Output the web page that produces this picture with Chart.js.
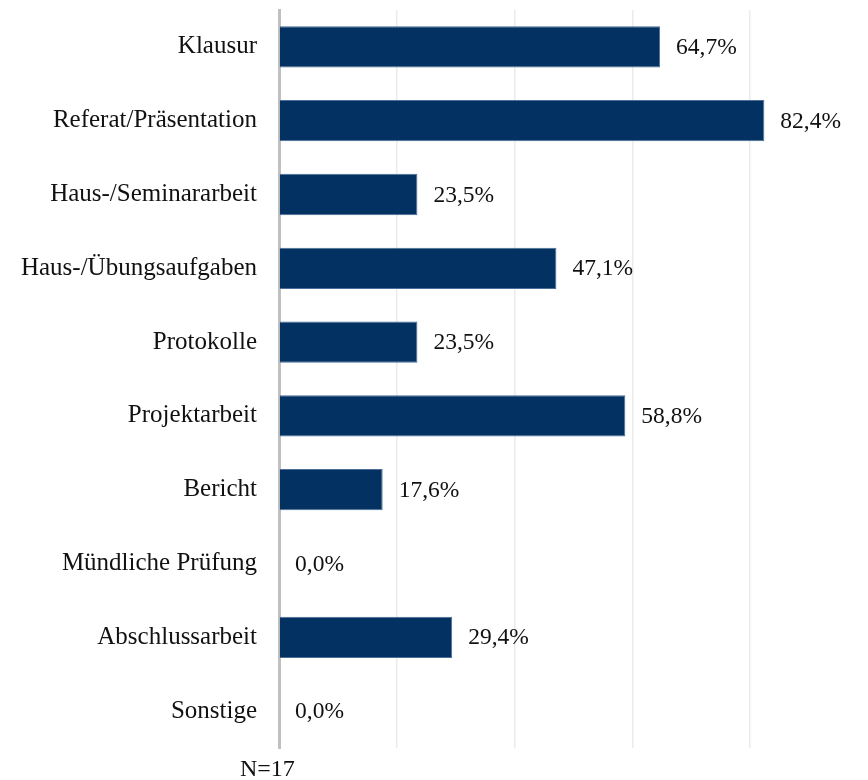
<!DOCTYPE html>
<html lang="de">
  <head>
    <meta charset="UTF-8" />
    <title>Prüfungsformen</title>
    <script src="https://cdn.jsdelivr.net/npm/chart.js"></script>
    <style>
      html, body { margin: 0; padding: 0; background: #fff; overflow: hidden; }
      #wrap { position: relative; width: 868px; height: 780px; }
    </style>
  </head>
  <body>
    <div id="wrap"><canvas id="chart" width="868" height="780"></canvas></div>

    <script>
      // Daten
      const categories = [
        "Klausur",
        "Referat/Präsentation",
        "Haus-/Seminararbeit",
        "Haus-/Übungsaufgaben",
        "Protokolle",
        "Projektarbeit",
        "Bericht",
        "Mündliche Prüfung",
        "Abschlussarbeit",
        "Sonstige",
      ];
      const shares = [64.7, 82.4, 23.5, 47.1, 23.5, 58.8, 17.6, 0.0, 29.4, 0.0];
      const xTicks = [0, 20, 40, 60, 80];
      const note = "N=17";

      const serif = "'Liberation Serif', 'Times New Roman', serif";

      // Werte neben den Balken
      const valueLabels = {
        id: "valueLabels",
        afterDatasetsDraw(chart) {
          const ctx = chart.ctx;
          const meta = chart.getDatasetMeta(0);
          ctx.save();
          ctx.font = "23.5px " + serif;
          ctx.fillStyle = "#111";
          ctx.textBaseline = "middle";
          ctx.textAlign = "left";
          meta.data.forEach((bar, i) => {
            const txt = shares[i].toFixed(1).replace(".", ",") + "%";
            ctx.fillText(txt, bar.x + 16, bar.y + 1);
          });
          // N-Angabe unten
          ctx.font = "24px " + serif;
          ctx.fillText(note, chart.chartArea.left - 39, chart.chartArea.bottom + 22);
          ctx.restore();
        },
      };

      new Chart(document.getElementById("chart"), {
        type: "bar",
        data: {
          labels: categories,
          datasets: [
            {
              data: shares,
              backgroundColor: "#033262",
              borderColor: "#4a6e98",
              borderWidth: 1,
              barPercentage: 0.56,
              categoryPercentage: 1,
            },
          ],
        },
        options: {
          indexAxis: "y",
          responsive: false,
          animation: false,
          layout: { padding: { left: 10, right: -3, top: 10, bottom: 32 } },
          plugins: {
            legend: { display: false },
            tooltip: { enabled: false },
          },
          scales: {
            x: {
              min: 0,
              max: 100,
              afterBuildTicks(scale) {
                scale.ticks = xTicks.map((v) => ({ value: v }));
              },
              ticks: { display: false },
              grid: { color: "#ebebeb", lineWidth: 1.5, drawTicks: false },
              border: { display: false },
            },
            y: {
              afterFit(scale) {
                scale.width = 269;
              },
              ticks: {
                color: "#111",
                padding: 0,
                font: { family: serif, size: 25, lineHeight: 0.6 },
              },
              grid: { display: false, drawTicks: true, tickLength: 22 },
              border: { display: true, color: "#c0c0c0", width: 3 },
            },
          },
        },
        plugins: [valueLabels],
      });
    </script>
  </body>
</html>
